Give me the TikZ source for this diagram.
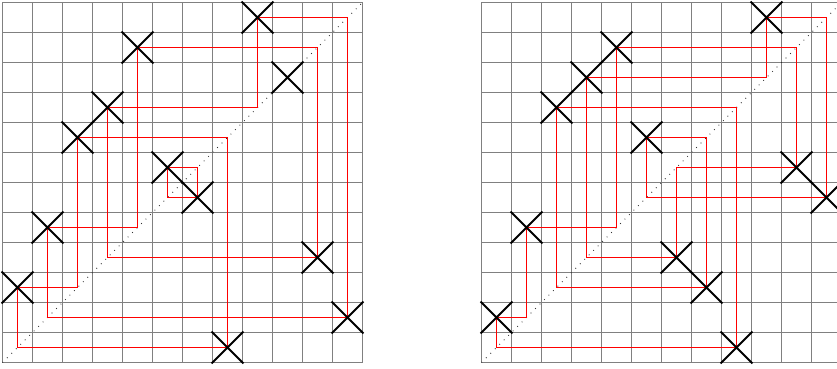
\documentclass[tikz,border=0pt]{standalone}
\usetikzlibrary{shapes.misc}
\tikzset{
  gridline/.style={color=black!50, line width=0.8pt},
  diagline/.style={color=black!80, line width=0.8pt, dash pattern=on 0.8pt off 5.2pt},
  link/.style={color=red, line width=0.95pt},
  xmark/.style={cross out, draw, line width=1.8pt, minimum size=1cm, inner sep=0pt},
}
\begin{document}
\begin{tikzpicture}[x=1cm,y=1cm]
\clip (-0.083333,-0.183333) rectangle (27.816667,12.083333);
% left diagram
\begin{scope}
  \begin{scope}[gridline]
    \draw (0,0) grid (12,12);
  \end{scope}
  \begin{scope}[diagline]
    \draw (0,0) -- (12,12);
  \end{scope}
  \foreach \c/\d in {0/2,1/4,2/7,3/8,4/10,5/6,6/5,7/0,8/11,9/9,10/3,11/1}
    \coordinate (L\c) at (\c+0.5,\d+0.5);
  \begin{scope}[link]
    \draw \foreach \c/\d in {0/2,1/4,2/7,3/8,4/10,5/6,6/5,7/0,8/11,10/3,11/1}
      {(L\c) -| (L\d)};
  \end{scope}
  \begin{scope}[color=black]
    \foreach \c in {0,...,11}
      \node[xmark] (XL\c) at (L\c) {};
  \end{scope}
\end{scope}
% right diagram
\begin{scope}[shift={(15.966667,0)}]
  \begin{scope}[gridline]
    \draw (0,0) grid (12,12);
  \end{scope}
  \begin{scope}[diagline]
    \draw (0,0) -- (12,12);
  \end{scope}
  \foreach \c/\d in {0/1,1/4,2/8,3/9,4/10,5/7,6/3,7/2,8/0,9/11,10/6,11/5}
    \coordinate (R\c) at (\c+0.5,\d+0.5);
  \begin{scope}[link]
    \draw \foreach \c/\d in {0/1,1/4,2/8,3/9,4/10,5/7,6/3,7/2,8/0,9/11,10/6,11/5}
      {(R\c) -| (R\d)};
  \end{scope}
  \begin{scope}[color=black]
    \foreach \c in {0,...,11}
      \node[xmark] (XR\c) at (R\c) {};
  \end{scope}
\end{scope}
\end{tikzpicture}
\end{document}
